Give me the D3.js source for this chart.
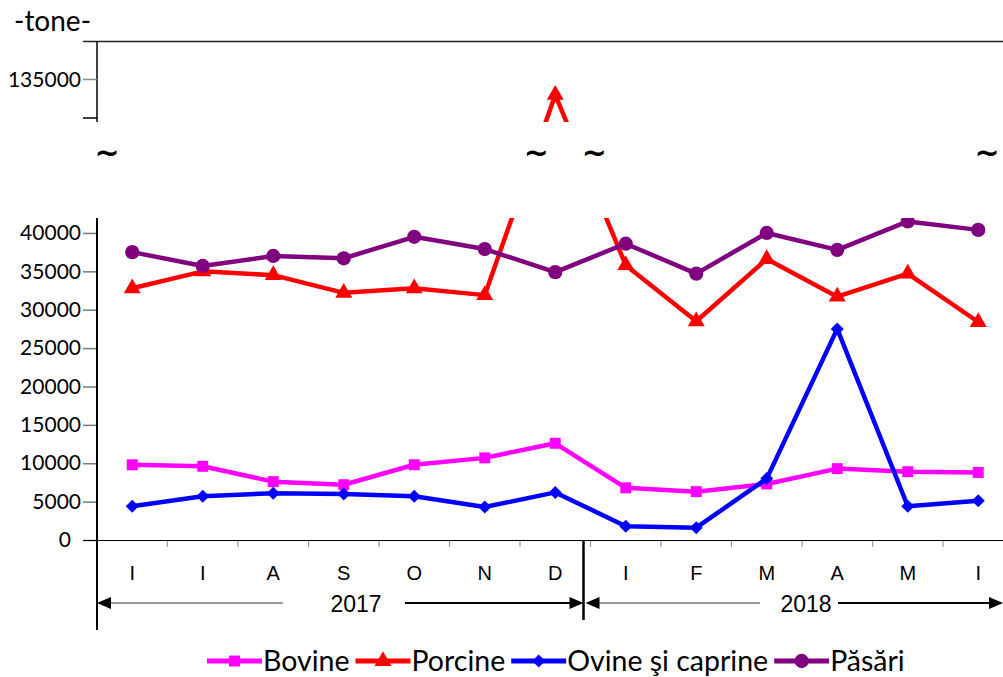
<!DOCTYPE html>
<html>
<head>
<meta charset="utf-8">
<script src="https://cdn.jsdelivr.net/npm/d3@7"></script>
<style>
  body { margin: 0; background: #fff; }
  svg { display: block; }
</style>
</head>
<body>
<script>
// months (multi-level category axis)
var months = ["I", "I", "A", "S", "O", "N", "D", "I", "F", "M", "A", "M", "I"];
var yearLabels = ["2017", "2018"];
var yearCounts = [7, 6];

// tonnes per month
var bovine  = [9800, 9600, 7600, 7200, 9800, 10700, 12600, 6800, 6300, 7300, 9300, 8900, 8800];
var porcine = [32800, 35000, 34500, 32200, 32800, 31900, 133000, 35800, 28500, 36600, 31700, 34700, 28400];
var ovine   = [4400, 5700, 6100, 6000, 5700, 4300, 6200, 1800, 1600, 8000, 27500, 4400, 5100];
var pasari  = [37500, 35700, 37000, 36700, 39500, 37900, 34900, 38600, 34700, 40000, 37800, 41500, 40400];

var seriesNames = ["Bovine", "Porcine", "Ovine şi caprine", "Păsări"];
var seriesColors = ["#ff00ff", "#ff0000", "#0000ff", "#800080"];
var seriesSymbols = ["square", "triangle", "diamond", "circle"];

var lowerTicks = [0, 5000, 10000, 15000, 20000, 25000, 30000, 35000, 40000];
var upperTicks = [130000, 135000, 140000];
var upperLabels = [135000];

var width = 1003, height = 677;
var svg = d3.select("body").append("svg")
    .attr("width", width)
    .attr("height", height);

var calibri = "Lato, 'Open Sans', sans-serif";
var arial = "'Liberation Sans', Arial, sans-serif";

var x = d3.scaleBand()
    .domain(d3.range(months.length))
    .range([97, 1013.5])
    .paddingInner(0);
var xc = function (i) { return x(i) + x.bandwidth() / 2; };

// broken axis: the band between 42000 and 130000 is hidden
var y = d3.scaleLinear()
    .domain([0, 42000, 130000, 140000])
    .range([540, 217.6, 118, 41]);

var defs = svg.append("defs");
defs.append("clipPath").attr("id", "clipLow")
  .append("rect").attr("x", 97).attr("y", 218).attr("width", 930).attr("height", 340);
defs.append("clipPath").attr("id", "clipHigh")
  .append("rect").attr("x", 97).attr("y", 41).attr("width", 930).attr("height", 81);

// unit label
svg.append("text")
    .attr("x", 14).attr("y", 31)
    .style("font-family", calibri).style("font-size", "28px")
    .text("-tone-");

// upper panel frame
svg.append("line").attr("x1", 83).attr("x2", width).attr("y1", 41.5).attr("y2", 41.5)
    .attr("stroke", "#222").attr("stroke-width", 1.3);
svg.append("line").attr("x1", 97).attr("x2", 97).attr("y1", 41).attr("y2", 122)
    .attr("stroke", "#000").attr("stroke-width", 1.5);
upperTicks.slice(0, 2).forEach(function (t) {
  svg.append("line").attr("x1", 83).attr("x2", 97).attr("y1", y(t)).attr("y2", y(t))
      .attr("stroke", t == 130000 ? "#000" : "#888").attr("stroke-width", 1.5);
});
upperLabels.forEach(function (t) {
  svg.append("text")
      .attr("x", 81).attr("y", y(t)).attr("dy", "0.35em")
      .attr("text-anchor", "end")
      .style("font-family", calibri).style("font-size", "21px")
      .text(t);
});

// lower y axis
var yAxis = d3.axisLeft(y).tickValues(lowerTicks).tickSize(14).tickPadding(2)
    .tickFormat(d3.format("d"));
var gy = svg.append("g").attr("transform", "translate(97,0)").call(yAxis);
gy.select(".domain").remove();
gy.selectAll(".tick line").attr("stroke", "#777").attr("stroke-width", 1.5);
gy.selectAll(".tick text")
    .style("font-family", calibri).style("font-size", "21px").attr("fill", "#000")
    .attr("dx", function (d) { return d == 0 ? -10 : 0; });
svg.append("line").attr("x1", 97).attr("x2", 97).attr("y1", 218).attr("y2", 630)
    .attr("stroke", "#000").attr("stroke-width", 2);

// x axis
svg.append("line").attr("x1", 83).attr("x2", width).attr("y1", 540.5).attr("y2", 540.5)
    .attr("stroke", "#000").attr("stroke-width", 1.2);
svg.selectAll(".xtick").data(d3.range(1, months.length)).enter().append("line")
    .attr("class", "xtick")
    .attr("x1", function (i) { return x(i); }).attr("x2", function (i) { return x(i); })
    .attr("y1", 541).attr("y2", 547)
    .attr("stroke", "#999").attr("stroke-width", 1.2);
svg.selectAll(".month").data(months).enter().append("text")
    .attr("class", "month")
    .attr("x", function (d, i) { return xc(i); })
    .attr("y", 580)
    .attr("text-anchor", "middle")
    .style("font-family", arial).style("font-size", "20px")
    .text(function (d) { return d; });

// year groups with arrows
var sepX = x(yearCounts[0]) - 7;
svg.append("line").attr("x1", sepX).attr("x2", sepX).attr("y1", 540).attr("y2", 620)
    .attr("stroke", "#000").attr("stroke-width", 2.5);

function arrowHead(tipX, yy, dir) {
  var w = 14, h = 6;
  svg.append("path")
      .attr("d", "M" + tipX + "," + yy + "L" + (tipX - dir * w) + "," + (yy - h) +
                 "L" + (tipX - dir * w) + "," + (yy + h) + "Z")
      .attr("fill", "#000");
}
var groups = [
  { label: yearLabels[0], x0: 97, x1: sepX, tx: 356, gapL: 283, gapR: 405 },
  { label: yearLabels[1], x0: sepX + 2, x1: 1003, tx: 806, gapL: 760, gapR: 838 }
];
groups.forEach(function (g) {
  var yy = 603;
  svg.append("line").attr("x1", g.x0 + 10).attr("x2", g.gapL).attr("y1", yy).attr("y2", yy)
      .attr("stroke", "#333").attr("stroke-width", 1.2);
  svg.append("line").attr("x1", g.gapR).attr("x2", g.x1 - 10).attr("y1", yy).attr("y2", yy)
      .attr("stroke", "#000").attr("stroke-width", 2);
  arrowHead(g.x0, yy, -1);
  arrowHead(g.x1, yy, 1);
  svg.append("text")
      .attr("x", g.tx).attr("y", yy + 9)
      .attr("text-anchor", "middle")
      .style("font-family", arial).style("font-size", "23px")
      .text(g.label);
});

// series
var allSeries = [bovine, porcine, ovine, pasari];
function symbolPath(kind, size) {
  var type = { square: d3.symbolSquare, triangle: d3.symbolTriangle,
               diamond: d3.symbolSquare, circle: d3.symbolCircle }[kind];
  return d3.symbol().type(type).size(size)();
}
var symbolSizes = { square: 120, triangle: 125, diamond: 85, circle: 160 };

var line = d3.line()
    .x(function (d, i) { return xc(i); })
    .y(function (d) { return y(d); });

["clipLow", "clipHigh"].forEach(function (clip) {
  var g = svg.append("g").attr("clip-path", "url(#" + clip + ")");
  allSeries.forEach(function (values, s) {
    g.append("path")
        .datum(values)
        .attr("d", line)
        .attr("fill", "none")
        .attr("stroke", seriesColors[s])
        .attr("stroke-width", 4.5)
        .attr("stroke-linejoin", "round");
    g.selectAll(".m" + s).data(values).enter().append("path")
        .attr("class", "m" + s)
        .attr("d", symbolPath(seriesSymbols[s], symbolSizes[seriesSymbols[s]]))
        .attr("transform", function (d, i) {
          return "translate(" + xc(i) + "," + y(d) + ")" +
                 (seriesSymbols[s] == "diamond" ? " rotate(45)" : "");
        })
        .attr("fill", seriesColors[s]);
  });
});

// break marks
var breakXs = [107, xc(6) - 19, xc(6) + 39, 987];
breakXs.forEach(function (bx) {
  svg.append("text")
      .attr("x", bx).attr("y", 163)
      .attr("text-anchor", "middle")
      .style("font-family", "'DejaVu Sans', sans-serif").style("font-size", "30px").style("font-weight", "bold")
      .text("~");
});

// legend
var lx = 207, ly = 661;
seriesNames.forEach(function (name, s) {
  var lineLen = 55;
  svg.append("line").attr("x1", lx).attr("x2", lx + lineLen).attr("y1", ly).attr("y2", ly)
      .attr("stroke", seriesColors[s]).attr("stroke-width", 5);
  svg.append("path")
      .attr("d", symbolPath(seriesSymbols[s], symbolSizes[seriesSymbols[s]]))
      .attr("transform", "translate(" + (lx + lineLen / 2) + "," + ly + ")" +
            (seriesSymbols[s] == "diamond" ? " rotate(45)" : ""))
      .attr("fill", seriesColors[s]);
  var t = svg.append("text")
      .attr("x", lx + lineLen + 1).attr("y", ly).attr("dy", "0.36em")
      .style("font-family", calibri).style("font-size", "28.5px")
      .text(name);
  lx = lx + lineLen + 1 + t.node().getComputedTextLength() + 6;
});
</script>
</body>
</html>
